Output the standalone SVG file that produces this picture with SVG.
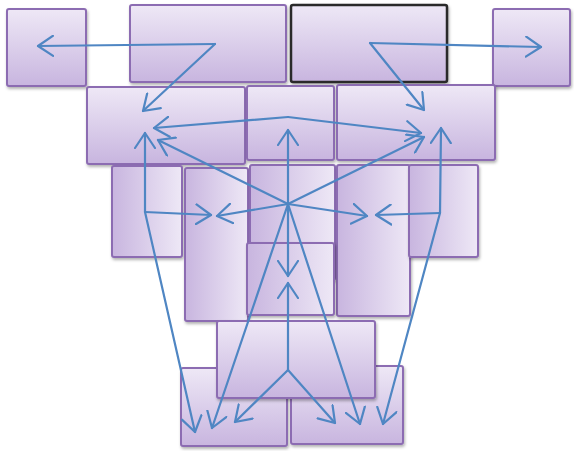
<svg xmlns="http://www.w3.org/2000/svg" width="574" height="451" viewBox="0 0 574 451">
<defs>
<linearGradient id="gv" x1="0" y1="0" x2="0" y2="1"><stop offset="0" stop-color="#eee8f6"/><stop offset="1" stop-color="#c8b5df"/></linearGradient>
<linearGradient id="gh" x1="0" y1="0" x2="1" y2="0"><stop offset="0" stop-color="#c8b5df"/><stop offset="1" stop-color="#eee8f6"/></linearGradient>
<filter id="sh" x="-10%" y="-10%" width="125%" height="125%"><feDropShadow dx="1" dy="2" stdDeviation="1.5" flood-color="#000" flood-opacity="0.3"/></filter>
<marker id="ah" viewBox="0 0 18 22" refX="16" refY="11" markerWidth="18" markerHeight="22" markerUnits="userSpaceOnUse" orient="auto"><path d="M1,1 L16,11 L1,21" fill="none" stroke="#4f86c3" stroke-width="2.2" stroke-linecap="round" stroke-linejoin="round"/></marker>
<style>
.b{fill:url(#gv);stroke:#8c6cb2;stroke-width:2;filter:url(#sh)}
.h{fill:url(#gh);stroke:#8c6cb2;stroke-width:2;filter:url(#sh)}
.d{fill:url(#gv);stroke:#2b2b2b;stroke-width:2.5;filter:url(#sh)}
.c path{fill:none;stroke:#4f86c3;stroke-width:2.2;stroke-linecap:round;marker-end:url(#ah)}
</style>
</defs>
<g id="n1"><rect class="b" x="7" y="9" width="79" height="77" rx="2"/></g>
<g id="n2"><rect class="b" x="130" y="5" width="156" height="77" rx="2"/></g>
<g id="n3"><rect class="d" x="291" y="5" width="156" height="77" rx="2"/></g>
<g id="n4"><rect class="b" x="493" y="9" width="77" height="77" rx="2"/></g>
<g id="n5"><rect class="b" x="87" y="87" width="158" height="77" rx="2"/></g>
<g id="n6"><rect class="b" x="247" y="86" width="87" height="74" rx="2"/></g>
<g id="n7"><rect class="b" x="337" y="85" width="158" height="75" rx="2"/></g>
<g id="n8"><rect class="h" x="112" y="166" width="70" height="91" rx="2"/></g>
<g id="n9"><rect class="h" x="185" y="168" width="63" height="153" rx="2"/></g>
<g id="n10"><rect class="h" x="250" y="165" width="85" height="115" rx="2"/></g>
<g id="n11"><rect class="h" x="337" y="165" width="73" height="151" rx="2"/></g>
<g id="n12"><rect class="h" x="409" y="165" width="69" height="92" rx="2"/></g>
<g id="n13"><rect class="h" x="247" y="243" width="87" height="72" rx="2"/></g>
<g id="n14"><rect class="b" x="181" y="368" width="106" height="78" rx="2"/></g>
<g id="n15"><rect class="b" x="291" y="366" width="112" height="78" rx="2"/></g>
<g id="n16"><rect class="b" x="217" y="321" width="158" height="77" rx="2"/></g>
<g id="connectors" class="c">
<path d="M215,44 L38,46"/>
<path d="M215,44 L143,111"/>
<path d="M370,43 L541,47"/>
<path d="M370,43 L424,110"/>
<path d="M288,117 L154,128"/>
<path d="M288,117 L421,133"/>
<path d="M288,204 L288,130"/>
<path d="M288,204 L158,140"/>
<path d="M288,204 L424,137"/>
<path d="M288,204 L217,216"/>
<path d="M288,204 L367,216"/>
<path d="M288,204 L288,276"/>
<path d="M288,204 L212,428"/>
<path d="M288,204 L360,424"/>
<path d="M145,212 L145,133"/>
<path d="M145,212 L211,215"/>
<path d="M145,212 L195,432"/>
<path d="M440,213 L441,128"/>
<path d="M440,213 L376,215"/>
<path d="M440,213 L383,424"/>
<path d="M288,370 L288,283"/>
<path d="M288,370 L235,422"/>
<path d="M288,370 L335,423"/>
</g>
</svg>
